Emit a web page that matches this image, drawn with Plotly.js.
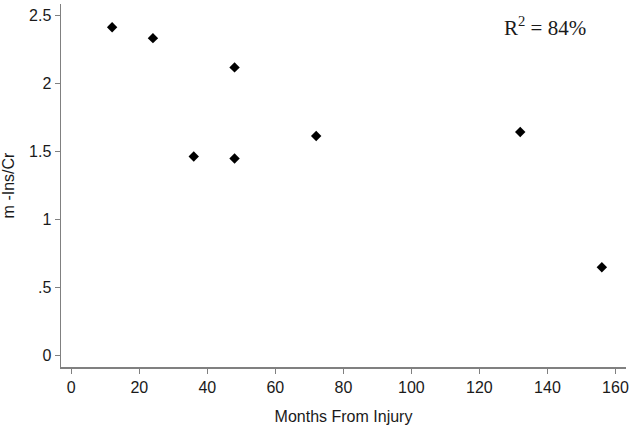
<!DOCTYPE html>
<html>
<head>
<meta charset="utf-8">
<script src="https://cdn.plot.ly/plotly-3.0.1.min.js"></script>
<style>html,body{margin:0;padding:0;background:#fff;}#chart{width:633px;height:432px;}</style>
</head>
<body>
<div id="chart"></div>
<script>
const monthsFromInjury = [12, 24, 36, 48, 48, 72, 132, 156];
const mInsCr = [2.41, 2.33, 1.46, 2.115, 1.445, 1.61, 1.64, 0.645];
const xTickVals = [0, 20, 40, 60, 80, 100, 120, 140, 160];
const yTickVals = [0, 0.5, 1, 1.5, 2, 2.5];
const yTickText = ['0', '.5', '1', '1.5', '2', '2.5'];
const annotationText = 'R<sup>2</sup> = 84%';

const trace = {
  x: monthsFromInjury,
  y: mInsCr,
  type: 'scatter',
  mode: 'markers',
  marker: {symbol: 'diamond', size: 8, color: '#000'},
  hoverinfo: 'x+y'
};

const axisCommon = {
  showgrid: false,
  zeroline: false,
  showline: true,
  linecolor: '#808080',
  linewidth: 1.5,
  ticks: 'outside',
  ticklen: 5,
  tickcolor: '#808080',
  tickwidth: 1,
  tickfont: {family: 'Liberation Sans, Arial, sans-serif', size: 16, color: '#1a1a1a'},
  fixedrange: true
};

const layout = {
  width: 633,
  height: 432,
  margin: {l: 61, r: 7, t: 4, b: 65},
  paper_bgcolor: '#fff',
  plot_bgcolor: '#fff',
  showlegend: false,
  xaxis: Object.assign({}, axisCommon, {
    range: [-3.03, 163.1],
    tickvals: xTickVals,
    ticktext: xTickVals.map(String),
    title: {text: 'Months From Injury', font: {family: 'Liberation Sans, Arial, sans-serif', size: 16, color: '#1a1a1a'}, standoff: 16}
  }),
  yaxis: Object.assign({}, axisCommon, {
    range: [-0.088, 2.581],
    tickvals: yTickVals,
    ticktext: yTickText,
    title: {text: 'm -Ins/Cr', font: {family: 'Liberation Sans, Arial, sans-serif', size: 16, color: '#1a1a1a'}, standoff: 10}
  }),
  annotations: [{
    xref: 'paper', yref: 'paper',
    x: 0.78, y: 0.937,
    xanchor: 'left', yanchor: 'middle',
    text: annotationText,
    showarrow: false,
    font: {family: 'Liberation Serif, Times New Roman, serif', size: 21, color: '#1a1a1a'}
  }]
};

Plotly.newPlot('chart', [trace], layout, {displayModeBar: false, staticPlot: true});
</script>
</body>
</html>
